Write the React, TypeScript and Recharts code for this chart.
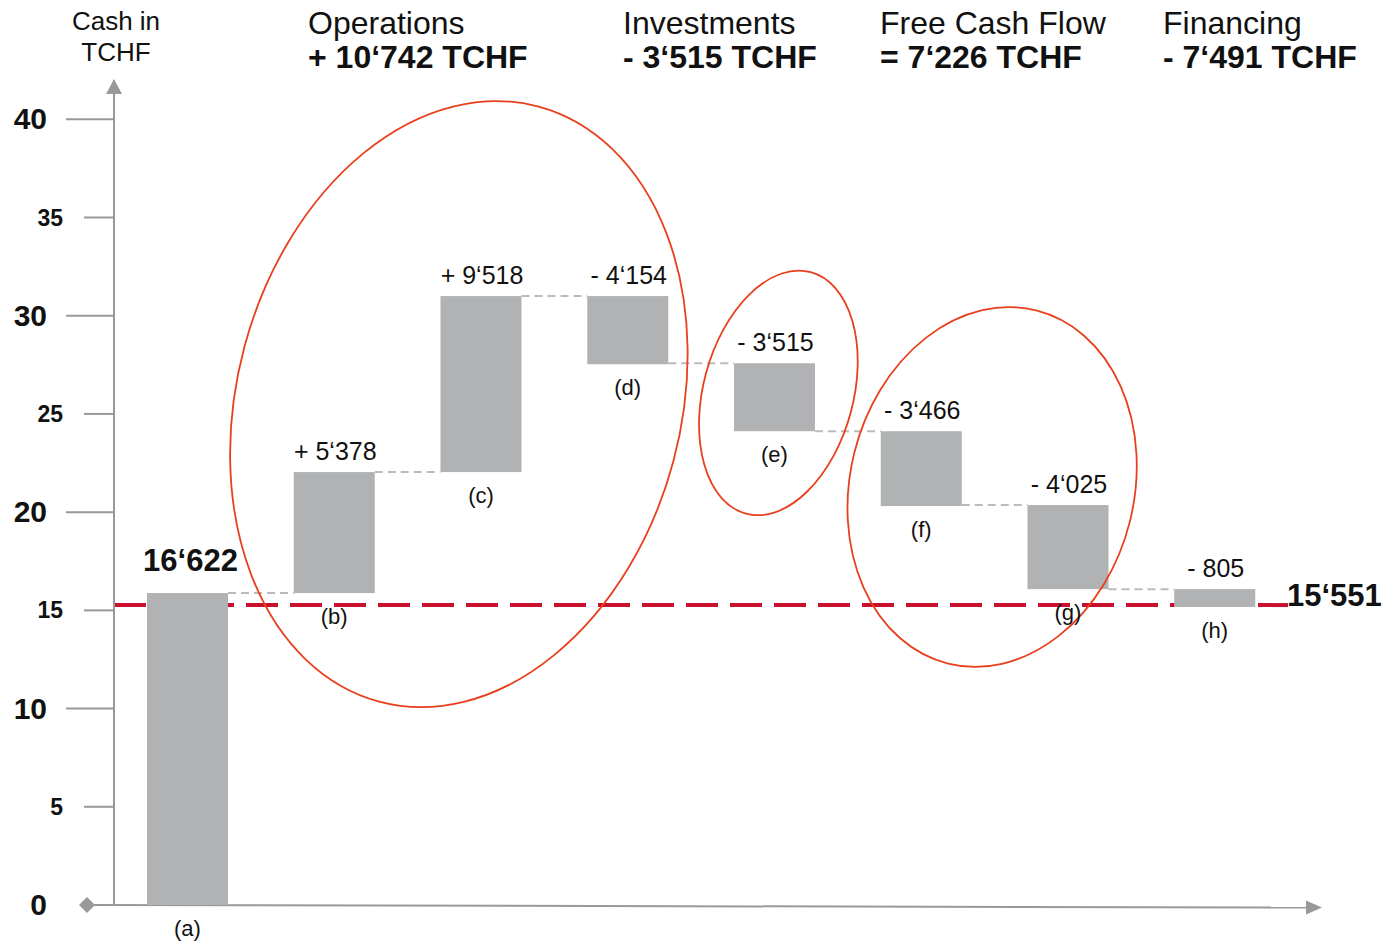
import React from "react";
import {
  BarChart,
  Bar,
  XAxis,
  YAxis,
  LabelList,
  ReferenceLine,
  ReferenceDot,
} from "recharts";

// waterfall steps (TCHF thousands on the axis)
const categories = ["(a)", "(b)", "(c)", "(d)", "(e)", "(f)", "(g)", "(h)"];
const barLow = [0, 15.88, 22.04, 27.53, 24.12, 20.31, 16.08, 15.17];
const barHigh = [15.88, 22.04, 31.0, 31.0, 27.58, 24.12, 20.36, 16.08];
const stepKind = ["total", "up", "up", "down", "down", "down", "down", "down"];
const valueLabels = [
  "16‘622",
  "+ 5‘378",
  "+ 9‘518",
  "- 4‘154",
  "- 3‘515",
  "- 3‘466",
  "- 4‘025",
  "- 805",
];

const endCashLevel = 15.27;
const endCashLabel = "15‘551";

const yTicks = [0, 5, 10, 15, 20, 25, 30, 35, 40];

const headerTitles = ["Operations", "Investments", "Free Cash Flow", "Financing"];
const headerTotals = ["+ 10‘742 TCHF", "- 3‘515 TCHF", "= 7‘226 TCHF", "- 7‘491 TCHF"];

// circled groups: anchor category, anchor value
const groupAnchors = [
  { cat: "(c)", y: 25.5 },
  { cat: "(e)", y: 26.07 },
  { cat: "(f)", y: 21.28 },
];

const FONT = '"Liberation Sans", Arial, Helvetica, sans-serif';
const W = 1384;
const H = 941;
const PLOT_LEFT = 114;
const PLOT_RIGHT_MARGIN = 96;
const X_AXIS_H = 36;
const BAR_SIZE = 81;
const BAND = (W - PLOT_LEFT - PLOT_RIGHT_MARGIN) / categories.length;
const AXIS = "#999999";
const BAR = "#b1b2b4";
const RED = "#c8102e";
const CIRCLE = "#e8401c";
const Y_DOMAIN: [number, number] = [0, 42];

const data = categories.map((cat, i) => ({
  cat,
  range: [barLow[i], barHigh[i]],
  label: valueLabels[i],
}));

// rx, ry, rotation and horizontal shift for each circle
const circleShapes = [
  { dx: -22, rx: 222, ry: 308, rot: 15 },
  { dx: 4, rx: 75, ry: 125, rot: 15 },
  { dx: 71, rx: 142, ry: 182, rot: 14 },
];

const YTick = (props: any) => {
  const { y, payload } = props;
  const v = payload.value;
  const major = v % 10 === 0;
  return (
    <g>
      {v !== 0 && (
        <line
          x1={PLOT_LEFT - (major ? 48 : 30)}
          x2={PLOT_LEFT}
          y1={y}
          y2={y}
          stroke={AXIS}
          strokeWidth={2}
        />
      )}
      <text
        x={PLOT_LEFT - (major ? 67 : 51)}
        y={y}
        dy={major ? 10 : 8}
        textAnchor="end"
        fontFamily={FONT}
        fontWeight="bold"
        fontSize={major ? 30 : 23}
        fill="#111"
      >
        {v}
      </text>
    </g>
  );
};

const YArrow = (props: any) => {
  const vb = props.viewBox || {};
  const ax = vb.x + vb.width;
  const top = vb.y - 1;
  return <polygon points={`${ax},${top} ${ax - 8},${top + 15} ${ax + 8},${top + 15}`} fill={AXIS} />;
};

const XAxisLine = (props: any) => {
  const { x, y, width } = props.viewBox;
  const x0 = x - 27;
  const x1 = x + width + 34;
  const y1 = y + 2.5;
  return (
    <g>
      <line x1={x0} y1={y} x2={x1 - 6} y2={y1} stroke={AXIS} strokeWidth={2} />
      <polygon points={`${x0 - 8},${y} ${x0},${y - 8} ${x0 + 8},${y} ${x0},${y + 8}`} fill={AXIS} />
      <polygon points={`${x1},${y1} ${x1 - 16},${y1 - 7} ${x1 - 16},${y1 + 7}`} fill={AXIS} />
    </g>
  );
};

const EndCashLabel = (props: any) => {
  const { x, y, width } = props.viewBox;
  return (
    <text
      x={x + width - 1}
      y={y + 1}
      fontFamily={FONT}
      fontWeight="bold"
      fontSize={31}
      fill="#111"
    >
      {endCashLabel}
    </text>
  );
};

// bar plus the dashed step line coming from the previous bar
const StepBar = (props: any) => {
  const { x, y, width, height, index } = props;
  const top = Math.min(y, y + height);
  const h = Math.abs(height);
  const level = stepKind[index] === "up" ? top + h : top;
  const gap = BAND - width;
  return (
    <g>
      {index > 0 && (
        <line
          x1={x - gap}
          x2={x}
          y1={level}
          y2={level}
          stroke="#bbbbbb"
          strokeWidth={2}
          strokeDasharray="8 5"
        />
      )}
      <rect x={x} y={top} width={width} height={h} fill={BAR} />
    </g>
  );
};

const ValueLabel = (props: any) => {
  const { x, y, width, height, index, value } = props;
  const top = Math.min(y, y + height);
  const first = index === 0;
  return (
    <text
      x={x + width / 2 + (first ? 3 : 1)}
      y={top - (first ? 22 : 12)}
      textAnchor="middle"
      fontFamily={FONT}
      fontWeight={first ? "bold" : "normal"}
      fontSize={first ? 31 : 25}
      fill="#111"
    >
      {value}
    </text>
  );
};

const CategoryLabel = (props: any) => {
  const { x, y, width, height, value } = props;
  const bottom = Math.max(y, y + height);
  return (
    <text
      x={x + width / 2}
      y={bottom + 31}
      textAnchor="middle"
      fontFamily={FONT}
      fontSize={22}
      fill="#111"
    >
      {value}
    </text>
  );
};

const circleShape = (i: number) => (p: any) => {
  const s = circleShapes[i];
  const cx = p.cx + s.dx;
  return (
    <ellipse
      cx={cx}
      cy={p.cy}
      rx={s.rx}
      ry={s.ry}
      transform={`rotate(${s.rot} ${cx} ${p.cy})`}
      fill="none"
      stroke={CIRCLE}
      strokeWidth={1.8}
    />
  );
};

const layer: React.CSSProperties = { position: "absolute", left: 0, top: 0 };

export default function App() {
  const headerX = [308, 623, 880, 1163];
  return (
    <div style={{ position: "absolute", left: 0, top: 0, width: W, height: H, background: "#fff" }}>
      {/* back layer: axes and end-cash line */}
      <div style={layer}>
        <BarChart
          width={W}
          height={H}
          data={data}
          margin={{ top: 80, right: PLOT_RIGHT_MARGIN, bottom: 0, left: 0 }}
          barSize={BAR_SIZE}
        >
          <XAxis dataKey="cat" type="category" tick={false} axisLine={false} tickLine={false} height={X_AXIS_H} />
          <YAxis
            type="number"
            domain={Y_DOMAIN}
            ticks={yTicks}
            interval={0}
            width={PLOT_LEFT}
            axisLine={{ stroke: AXIS, strokeWidth: 2 }}
            tickLine={false}
            tickSize={0}
            tick={<YTick />}
            label={{ content: <YArrow /> }}
          />
          <ReferenceLine y={0} stroke="none" label={{ content: <XAxisLine /> }} />
          <ReferenceLine
            y={endCashLevel}
            stroke={RED}
            strokeWidth={4}
            strokeDasharray="32 12"
            label={{ content: <EndCashLabel /> }}
          />
          <Bar dataKey="range" fill="none" isAnimationActive={false} />
        </BarChart>
      </div>
      {/* front layer: bars, step lines, labels and circled groups */}
      <div style={layer}>
        <BarChart
          width={W}
          height={H}
          data={data}
          margin={{ top: 80, right: PLOT_RIGHT_MARGIN, bottom: X_AXIS_H, left: PLOT_LEFT }}
          barSize={BAR_SIZE}
        >
          <XAxis dataKey="cat" type="category" hide />
          <YAxis type="number" domain={Y_DOMAIN} hide />
          <Bar dataKey="range" fill={BAR} shape={<StepBar />} isAnimationActive={false}>
            <LabelList dataKey="label" content={<ValueLabel />} />
            <LabelList dataKey="cat" content={<CategoryLabel />} />
          </Bar>
          {groupAnchors.map((g, i) => (
            <ReferenceDot key={g.cat} x={g.cat} y={g.y} r={1} shape={circleShape(i)} />
          ))}
        </BarChart>
      </div>
      <svg width={W} height={100} style={{ ...layer, pointerEvents: "none" }}>
        <text x={116} y={30} textAnchor="middle" fontFamily={FONT} fontSize={26} fill="#111">
          Cash in
        </text>
        <text x={116} y={61} textAnchor="middle" fontFamily={FONT} fontSize={26} fill="#111">
          TCHF
        </text>
        {headerTitles.map((t, i) => (
          <g key={t}>
            <text x={headerX[i]} y={34} fontFamily={FONT} fontSize={32} fill="#111">
              {t}
            </text>
            <text x={headerX[i]} y={68} fontFamily={FONT} fontSize={32} fontWeight="bold" fill="#111">
              {headerTotals[i]}
            </text>
          </g>
        ))}
      </svg>
    </div>
  );
}
